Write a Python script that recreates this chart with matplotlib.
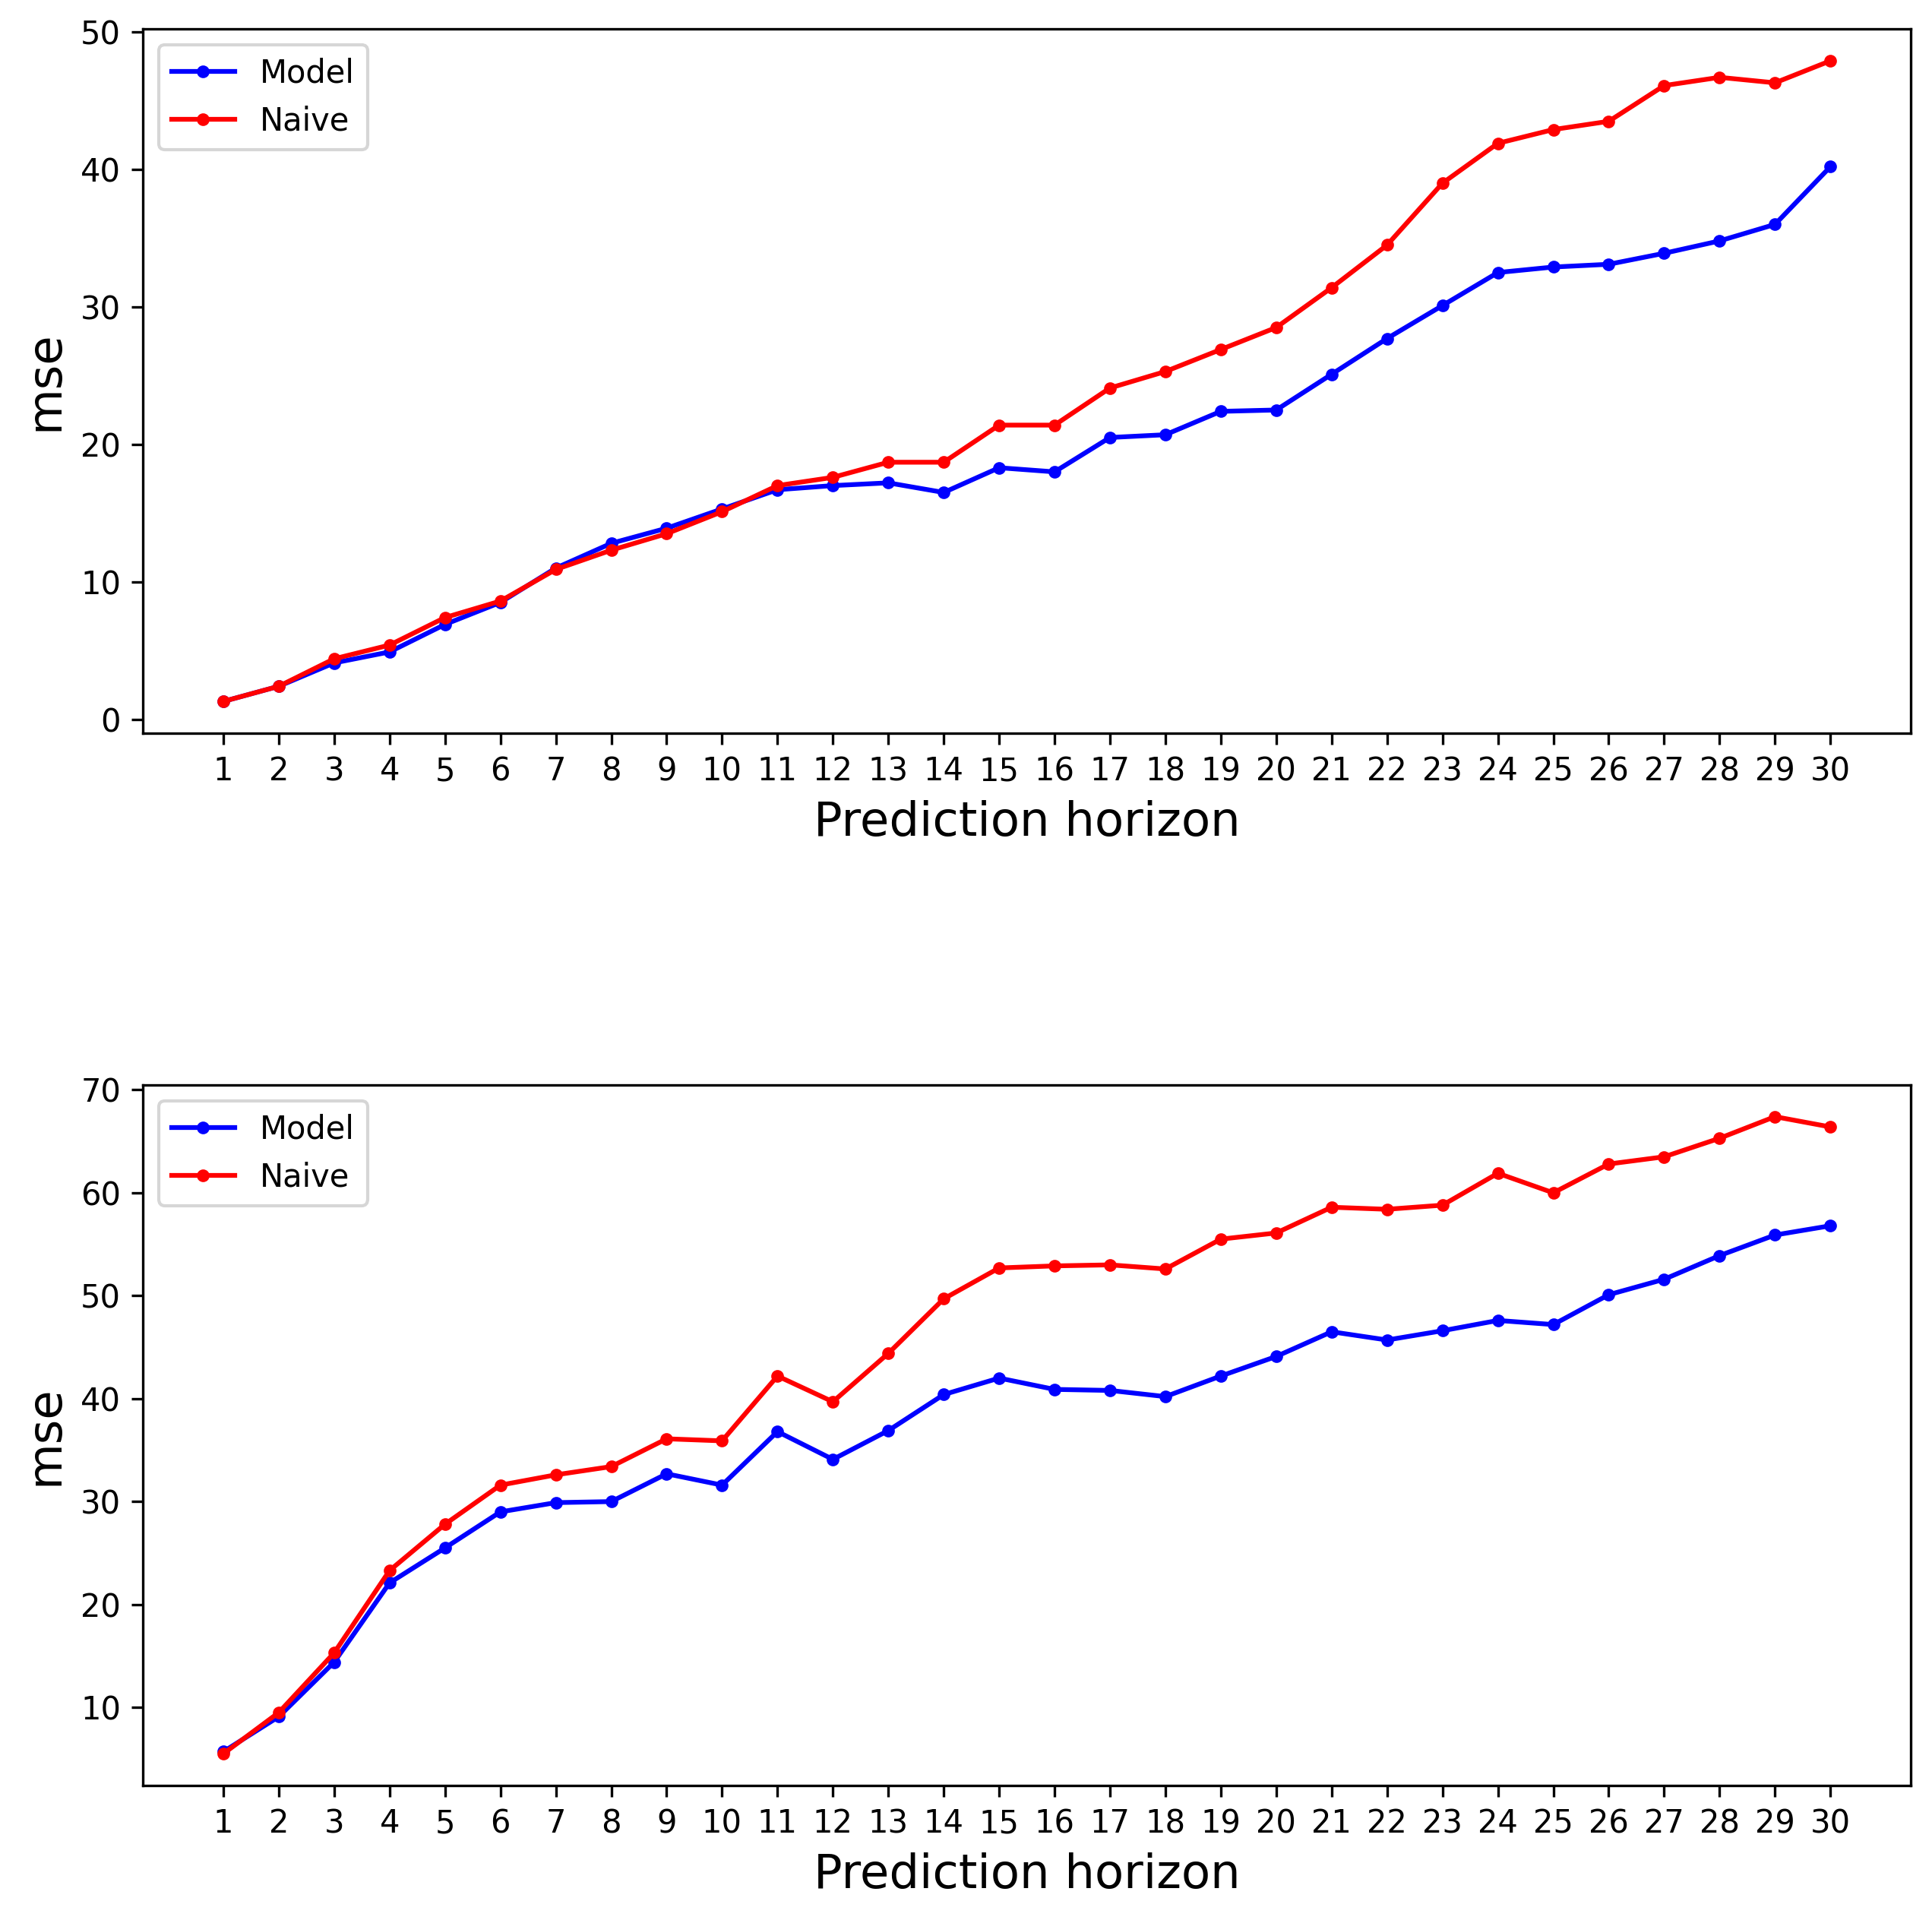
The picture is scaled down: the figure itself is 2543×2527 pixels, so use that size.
import matplotlib
matplotlib.use("Agg")
import matplotlib.pyplot as plt

horizon = list(range(1, 31))
top_model = [1.3,2.4,4.1,4.9,6.9,8.5,11.0,12.8,13.9,15.3,16.7,17.0,17.2,16.5,18.3,18.0,20.5,20.7,22.4,22.5,25.1,27.7,30.1,32.5,32.9,33.1,33.9,34.8,36.0,40.2]
top_naive = [1.3,2.4,4.4,5.4,7.4,8.6,10.9,12.3,13.5,15.1,17.0,17.6,18.7,18.7,21.4,21.4,24.1,25.3,26.9,28.5,31.4,34.5,39.0,41.9,42.9,43.5,46.1,46.7,46.3,47.9]
bot_model = [5.7,9.1,14.4,22.1,25.5,29.0,29.9,30.0,32.7,31.6,36.8,34.1,36.9,40.4,42.0,40.9,40.8,40.2,42.2,44.1,46.5,45.7,46.6,47.6,47.2,50.1,51.6,53.9,55.9,56.8]
bot_naive = [5.5,9.5,15.3,23.3,27.8,31.6,32.6,33.4,36.1,35.9,42.2,39.7,44.4,49.7,52.7,52.9,53.0,52.6,55.5,56.1,58.6,58.4,58.8,61.9,60.0,62.8,63.5,65.3,67.4,66.4]

fig = plt.figure(figsize=(2543/300, 2527/300), dpi=300)
ax1 = fig.add_axes([0.074, 0.618, 0.915, 0.367])
ax2 = fig.add_axes([0.074, 0.070, 0.915, 0.365])
for ax, m, n in [(ax1, top_model, top_naive), (ax2, bot_model, bot_naive)]:
    ax.plot(horizon, m, color='blue', marker='.', label='Model')
    ax.plot(horizon, n, color='red', marker='.', label='Naive')
    ax.set_xticks(horizon)
    ax.set_xlabel('Prediction horizon', fontsize=15)
    ax.set_ylabel('mse', fontsize=15)
    ax.legend(loc='upper left')
ax1.set_yticks([0,10,20,30,40,50])
ax2.set_yticks([10,20,30,40,50,60,70])
fig.savefig('out.png', dpi=300)
